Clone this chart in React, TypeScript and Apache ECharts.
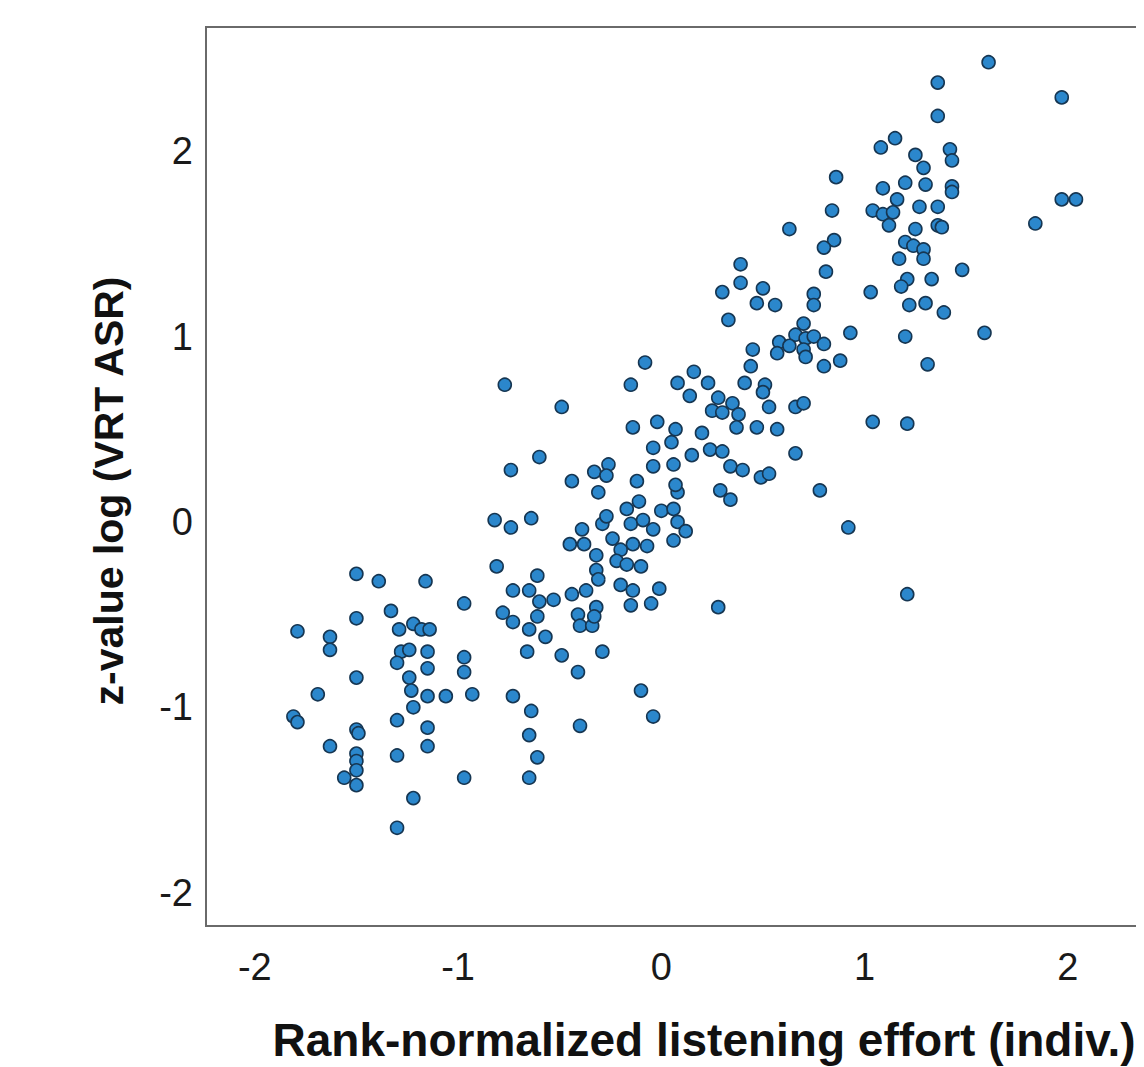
import React, { useEffect, useRef } from "react";
import * as echarts from "echarts";

// Axis titles and ticks
const xAxisTitle = "Rank-normalized listening effort (indiv.)";
const yAxisTitle = "z-value log (VRT ASR)";
const xTickValues = [-2, -1, 0, 1, 2];
const yTickValues = [-2, -1, 0, 1, 2];

// Points, [x, y], grouped by region of the cloud
const lowerGroup: [number, number][] = [
  [-1.5, -0.28], [-1.39, -0.32], [-1.16, -0.32], [-0.81, -0.24], [-0.73, -0.37],
  [-0.78, -0.49], [-0.73, -0.54], [-0.97, -0.44], [-1.5, -0.52], [-1.33, -0.48],
  [-1.79, -0.59], [-1.63, -0.62], [-1.63, -0.69], [-1.29, -0.58], [-1.22, -0.55],
  [-1.18, -0.58], [-1.14, -0.58], [-1.28, -0.7], [-1.24, -0.69], [-1.3, -0.76],
  [-1.15, -0.7], [-1.15, -0.79], [-0.97, -0.73], [-0.97, -0.81], [-1.5, -0.84],
  [-1.24, -0.84], [-1.23, -0.91], [-1.15, -0.94], [-1.22, -1.0], [-1.06, -0.94],
  [-0.93, -0.93], [-0.73, -0.94], [-1.69, -0.93], [-1.81, -1.05], [-1.79, -1.08],
  [-1.5, -1.12], [-1.49, -1.14], [-1.3, -1.07], [-1.15, -1.11], [-1.15, -1.21],
  [-1.63, -1.21], [-1.3, -1.26], [-1.5, -1.25], [-1.5, -1.29], [-1.5, -1.34],
  [-1.56, -1.38], [-1.5, -1.42], [-0.97, -1.38], [-1.22, -1.49], [-1.3, -1.65],
];

const centreGroup: [number, number][] = [
  [-0.31, 0.16], [0.08, 0.16], [-0.82, 0.01], [-0.74, -0.03], [-0.64, 0.02],
  [-0.17, 0.07], [-0.11, 0.11], [-0.39, -0.04], [-0.29, -0.01], [-0.27, 0.03],
  [-0.45, -0.12], [-0.38, -0.12], [-0.24, -0.09], [-0.15, -0.01], [-0.09, 0.01],
  [-0.04, -0.04], [0.0, 0.06], [0.06, 0.07], [0.08, 0.0], [0.12, -0.05],
  [0.06, -0.1], [-0.14, -0.12], [-0.07, -0.13], [-0.2, -0.15], [-0.32, -0.18],
  [-0.22, -0.21], [-0.17, -0.23], [-0.1, -0.24], [-0.32, -0.26], [-0.31, -0.31],
  [-0.61, -0.29], [-0.65, -0.37], [-0.6, -0.43], [-0.53, -0.42], [-0.65, -0.58],
  [-0.61, -0.51], [-0.57, -0.62], [-0.44, -0.39], [-0.37, -0.37], [-0.41, -0.5],
  [-0.4, -0.56], [-0.34, -0.56], [-0.32, -0.46], [-0.33, -0.51], [-0.2, -0.34],
  [-0.14, -0.37], [-0.15, -0.45], [-0.05, -0.44], [-0.01, -0.36], [-0.66, -0.7],
  [-0.49, -0.72], [-0.29, -0.7], [-0.41, -0.81], [-0.64, -1.02], [-0.4, -1.1],
  [-0.65, -1.15], [-0.61, -1.27], [-0.65, -1.38], [-0.1, -0.91], [-0.04, -1.05],
  [-0.77, 0.74], [-0.49, 0.62], [-0.08, 0.86], [-0.15, 0.74], [0.08, 0.75],
  [0.16, 0.81], [0.23, 0.75], [0.14, 0.68], [0.25, 0.6], [0.28, 0.67],
  [-0.14, 0.51], [-0.02, 0.54], [0.07, 0.5], [0.05, 0.43], [0.2, 0.48],
  [-0.04, 0.4], [0.15, 0.36], [0.24, 0.39], [-0.04, 0.3], [0.06, 0.31],
  [-0.6, 0.35], [-0.74, 0.28], [-0.44, 0.22], [-0.33, 0.27], [-0.26, 0.31],
  [-0.27, 0.25], [-0.12, 0.22], [0.07, 0.2],
];

const upperGroup: [number, number][] = [
  [0.39, 1.39], [0.81, 1.35], [1.03, 1.24], [0.3, 1.24], [0.39, 1.29],
  [0.5, 1.26], [0.47, 1.18], [0.56, 1.17], [0.75, 1.23], [0.75, 1.17],
  [0.33, 1.09], [0.7, 1.07], [0.93, 1.02], [0.58, 0.97], [0.57, 0.91],
  [0.66, 1.01], [0.71, 0.99], [0.75, 1.0], [0.8, 0.96], [0.63, 0.95],
  [0.7, 0.93], [0.71, 0.89], [0.8, 0.84], [0.88, 0.87], [0.45, 0.93],
  [0.44, 0.84], [0.41, 0.75], [0.51, 0.74], [0.5, 0.7], [0.35, 0.64],
  [0.3, 0.59], [0.38, 0.58], [0.53, 0.62], [0.66, 0.62], [0.7, 0.64],
  [0.37, 0.51], [0.47, 0.51], [0.57, 0.5], [1.04, 0.54], [0.3, 0.38],
  [0.34, 0.3], [0.4, 0.28], [0.66, 0.37], [0.49, 0.24], [0.53, 0.26],
  [0.29, 0.17], [0.34, 0.12], [0.78, 0.17], [0.86, 1.86], [0.84, 1.68],
  [0.63, 1.58], [0.85, 1.52], [0.8, 1.48], [0.92, -0.03], [0.28, -0.46],
];

const topGroup: [number, number][] = [
  [1.61, 2.48], [1.36, 2.37], [1.36, 2.19], [1.08, 2.02], [1.15, 2.07],
  [1.25, 1.98], [1.42, 2.01], [1.43, 1.95], [1.29, 1.91], [1.2, 1.83],
  [1.3, 1.82], [1.09, 1.8], [1.43, 1.81], [1.43, 1.78], [1.16, 1.74],
  [1.04, 1.68], [1.09, 1.66], [1.14, 1.67], [1.12, 1.6], [1.27, 1.7],
  [1.36, 1.7], [1.36, 1.6], [1.38, 1.59], [1.25, 1.58], [1.2, 1.51],
  [1.24, 1.49], [1.29, 1.47], [1.29, 1.42], [1.17, 1.42], [1.48, 1.36],
  [1.21, 1.31], [1.18, 1.27], [1.33, 1.31], [1.22, 1.17], [1.3, 1.18],
  [1.39, 1.13], [1.2, 1.0], [1.59, 1.02], [1.31, 0.85], [1.21, 0.53],
  [1.21, -0.39], [1.97, 2.29], [1.97, 1.74], [2.04, 1.74], [1.84, 1.61],
];

const allPoints = [...lowerGroup, ...centreGroup, ...upperGroup, ...topGroup];

const FONT = "'Liberation Sans', Arial, Helvetica, sans-serif";

export default function App() {
  const ref = useRef<HTMLDivElement>(null);

  useEffect(() => {
    if (!ref.current) return;
    document.body.style.overflow = "hidden";
    const chart = echarts.init(ref.current, undefined, { renderer: "svg" });
    const tickLabel = (ticks: number[]) => (v: number) =>
      ticks.some((t) => Math.abs(t - v) < 1e-9) ? String(Math.round(v)) : "";
    chart.setOption({
      animation: false,
      backgroundColor: "#ffffff",
      grid: {
        left: 198,
        top: 19,
        width: 996,
        height: 899,
        outerBoundsMode: "none",
        containLabel: false,
        show: true,
        borderColor: "#6a6a6a",
        borderWidth: 2,
        backgroundColor: "transparent",
      },
      xAxis: {
        type: "value",
        min: -2.24,
        max: 2.66,
        splitNumber: 5,
        axisLine: { show: false },
        axisTick: { show: false },
        splitLine: { show: false },
        axisLabel: {
          margin: 22,
          fontFamily: FONT,
          fontSize: 38,
          lineHeight: 38,
          color: "#1a1a1a",
          showMinLabel: false,
          showMaxLabel: false,
          formatter: tickLabel(xTickValues),
        },
        name: xAxisTitle,
        nameLocation: "middle",
        nameGap: 91,
        nameTextStyle: {
          fontFamily: FONT,
          fontSize: 46,
          lineHeight: 46,
          fontWeight: "bold",
          color: "#111",
        },
      },
      yAxis: {
        type: "value",
        min: -2.18,
        max: 2.67,
        splitNumber: 5,
        axisLine: { show: false },
        axisTick: { show: false },
        splitLine: { show: false },
        axisLabel: {
          margin: 13,
          fontFamily: FONT,
          fontSize: 38,
          lineHeight: 38,
          color: "#1a1a1a",
          showMinLabel: false,
          showMaxLabel: false,
          formatter: tickLabel(yTickValues),
        },
        name: yAxisTitle,
        nameLocation: "middle",
        nameRotate: 90,
        nameGap: 77,
        nameTextStyle: {
          fontFamily: FONT,
          fontSize: 41,
          lineHeight: 41,
          fontWeight: "bold",
          color: "#111",
          padding: [0, 29, 0, 0],
        },
      },
      series: [
        {
          type: "scatter",
          data: allPoints,
          symbol: "circle",
          symbolSize: 13,
          itemStyle: {
            color: "#2b87cc",
            borderColor: "#163652",
            borderWidth: 1.6,
            opacity: 1,
          },
        },
      ],
    });
    return () => chart.dispose();
  }, []);

  return <div ref={ref} style={{ width: 1136, height: 1059 }} />;
}
